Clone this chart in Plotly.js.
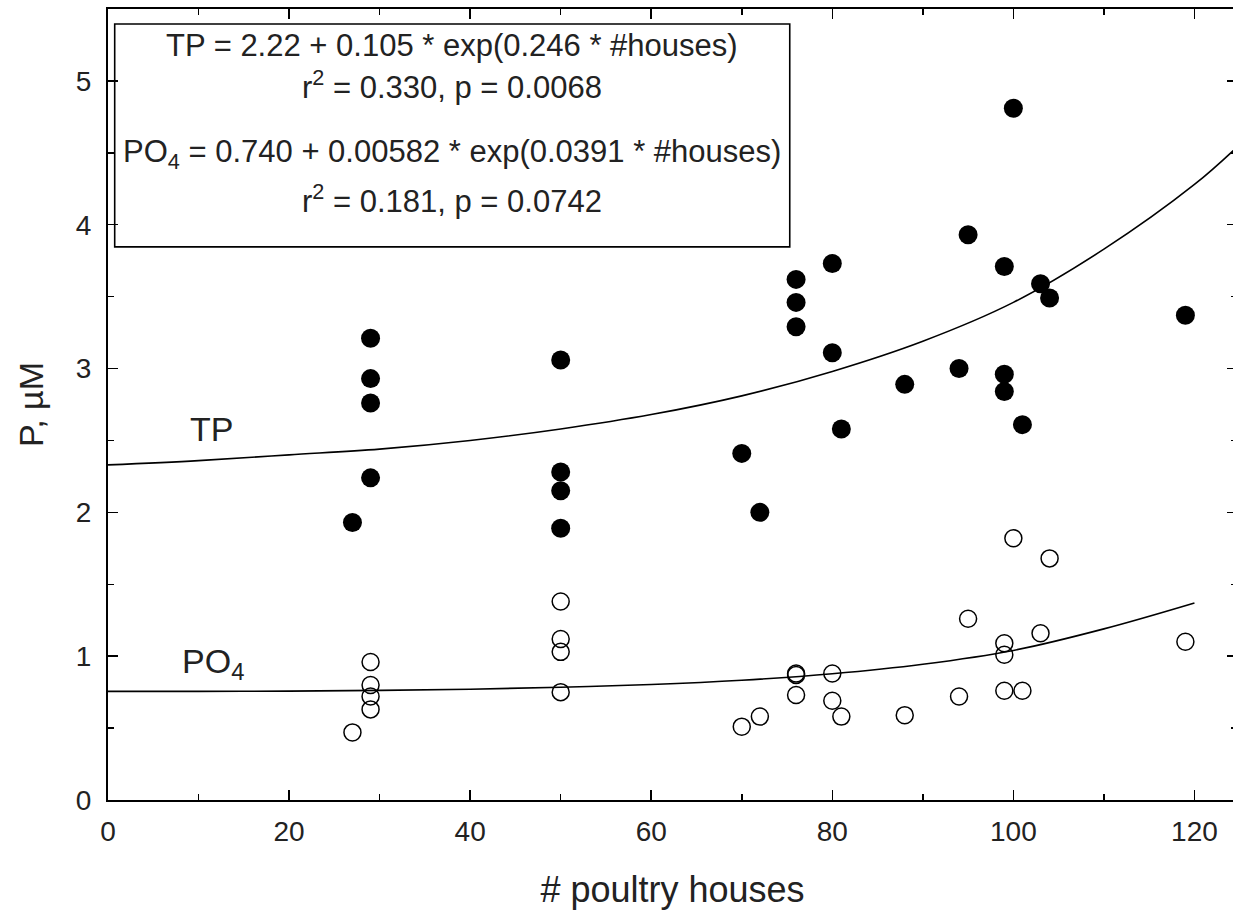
<!DOCTYPE html>
<html>
<head>
<meta charset="utf-8">
<script src="https://cdn.plot.ly/plotly-3.0.1.min.js"></script>
<style>
html,body{margin:0;padding:0;overflow:hidden;background:#fff;}
#chart{width:1238px;height:918px;}
</style>
</head>
<body>
<div id="chart"></div>
<script>
const houses = [27,29,29,29,29,50,50,50,50,70,72,76,76,76,80,80,81,88,94,95,99,99,99,100,101,103,104,119];
const tpValues = [1.93,3.21,2.93,2.76,2.24,3.06,2.28,2.15,1.89,2.41,2.00,3.62,3.46,3.29,3.73,3.11,2.58,2.89,3.00,3.93,3.71,2.96,2.84,4.81,2.61,3.59,3.49,3.37];
const po4Values = [0.47,0.96,0.80,0.72,0.63,1.38,1.12,1.03,0.75,0.51,0.58,0.88,0.87,0.73,0.88,0.69,0.58,0.59,0.72,1.26,1.09,1.01,0.76,1.82,0.76,1.16,1.68,1.10];

// Fitted curves
const fitTPx = [0,10,20,30,40,50,60,70,80,90,100,110,120,124.7];
const fitTPy = [2.33,2.36,2.40,2.44,2.50,2.58,2.68,2.81,2.98,3.19,3.46,3.83,4.28,4.54];
const fitPO4x = [0,10,20,30,40,50,60,70,80,90,100,110,120];
const fitPO4y = [0.755,0.755,0.757,0.762,0.770,0.784,0.803,0.833,0.878,0.944,1.040,1.190,1.370];

// Text
const eqLines = [
  "TP = 2.22 + 0.105 * exp(0.246 * #houses)",
  "r<sup>2</sup> = 0.330, p = 0.0068",
  "PO<sub>4</sub> = 0.740 + 0.00582 * exp(0.0391 * #houses)",
  "r<sup>2</sup> = 0.181, p = 0.0742"
];
const xTitle = "# poultry houses";
const yTitle = "P, µM";

const FONT = "Liberation Sans, Arial, sans-serif";
const TXT = "#222";

const traces = [
  {x: fitTPx, y: fitTPy, mode: "lines", line: {color: "#000", width: 1.6, shape: "spline"}, hoverinfo: "skip"},
  {x: fitPO4x, y: fitPO4y, mode: "lines", line: {color: "#000", width: 1.6, shape: "spline"}, hoverinfo: "skip"},
  {x: houses, y: tpValues, mode: "markers", name: "TP",
   marker: {symbol: "circle", size: 19, color: "#000", line: {width: 0}}},
  {x: houses, y: po4Values, mode: "markers", name: "PO4",
   marker: {symbol: "circle-open", size: 17, color: "#000", line: {width: 1.5, color: "#000"}}}
];

const eqY = [5.243, 4.975, 4.49, 4.18];
const annotations = eqLines.map((t, i) => ({
  x: 38.0, y: eqY[i], xref: "x", yref: "y", text: t, showarrow: false,
  xanchor: "center", yanchor: "middle", font: {family: FONT, size: 31, color: TXT}
}));
annotations.push({x: 11.4, y: 2.58, xref: "x", yref: "y", text: "TP", showarrow: false,
  xanchor: "center", yanchor: "middle", font: {family: FONT, size: 34, color: TXT}});
annotations.push({x: 7.9, y: 0.95, xref: "x", yref: "y", text: "PO<sub>4</sub>", showarrow: false,
  xanchor: "left", yanchor: "middle", font: {family: FONT, size: 34, color: TXT}});

const layout = {
  width: 1238, height: 918,
  margin: {l: 108, r: 1, t: 9, b: 118, pad: 0},
  paper_bgcolor: "#fff", plot_bgcolor: "#fff",
  showlegend: false,
  font: {family: FONT, color: TXT},
  xaxis: {
    range: [0, 124.7], tickmode: "linear", tick0: 0, dtick: 20,
    ticks: "inside", ticklen: 10, tickwidth: 1.5, tickcolor: "#000",
    minor: {dtick: 10, ticks: "inside", ticklen: 6, tickwidth: 1.5, tickcolor: "#000"},
    showline: true, linecolor: "#000", linewidth: 2, mirror: "ticks",
    showgrid: false, zeroline: false,
    tickfont: {family: FONT, size: 28, color: TXT}, ticklabelstandoff: 5,
    title: {text: xTitle, font: {family: FONT, size: 36, color: TXT}, standoff: 31}
  },
  yaxis: {
    range: [0, 5.5], tickmode: "linear", tick0: 0, dtick: 1,
    ticks: "inside", ticklen: 10, tickwidth: 1.5, tickcolor: "#000",
    minor: {dtick: 0.5, ticks: "inside", ticklen: 6, tickwidth: 1.5, tickcolor: "#000"},
    showline: true, linecolor: "#000", linewidth: 2, mirror: "ticks",
    showgrid: false, zeroline: false,
    tickfont: {family: FONT, size: 28, color: TXT}, ticklabelstandoff: 9,
    title: {text: yTitle, font: {family: FONT, size: 34, color: TXT}, standoff: 22}
  },
  shapes: [{type: "rect", xref: "x", yref: "y", x0: 0.74, x1: 75.3, y0: 3.846, y1: 5.396,
            line: {color: "#000", width: 1.6}, fillcolor: "rgba(0,0,0,0)"}],
  annotations: annotations
};

Plotly.newPlot("chart", traces, layout, {displayModeBar: false, staticPlot: true});
</script>
</body>
</html>
